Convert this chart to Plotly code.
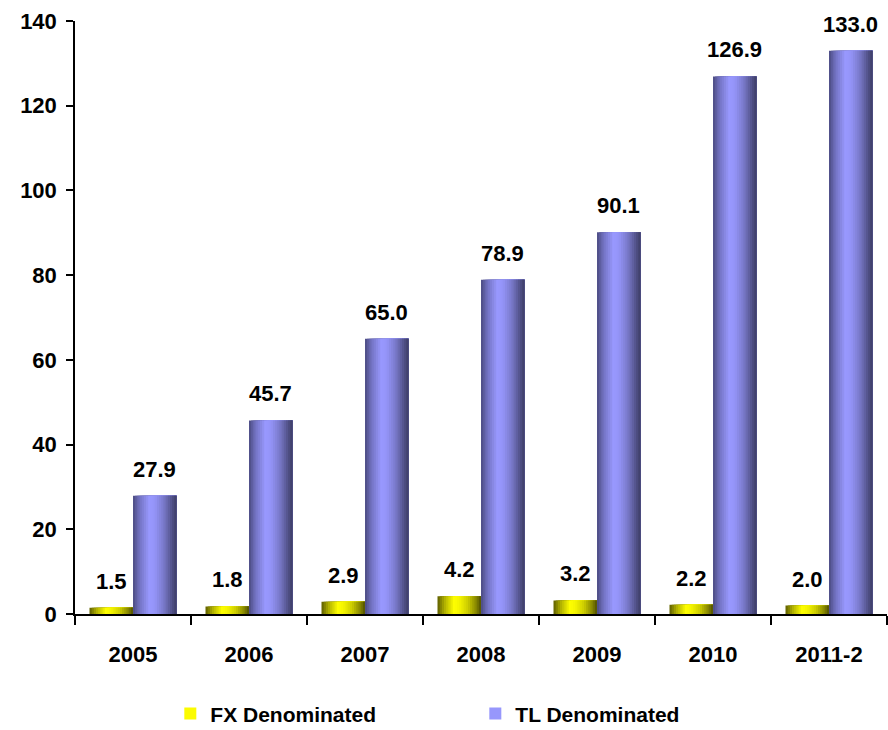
import plotly.graph_objects as go

# ---- data ----
categories = ["2005", "2006", "2007", "2008", "2009", "2010", "2011-2"]
fx_values = [1.5, 1.8, 2.9, 4.2, 3.2, 2.2, 2.0]
tl_values = [27.9, 45.7, 65.0, 78.9, 90.1, 126.9, 133.0]
y_tick_vals = [0, 20, 40, 60, 80, 100, 120, 140]
series_names = ["FX Denominated", "TL Denominated"]

# ---- style ----
FONT = "Liberation Sans Narrow, Arial Narrow, Liberation Sans, Arial, sans-serif"
FS = 22
BAR_W = 0.375
N_STRIPS = 20
fx_stops = [(0, "#5c5c00"), (0.15, "#aaaa00"), (0.38, "#ffff00"), (0.5, "#f5f500"),
            (0.7, "#cccc00"), (0.88, "#8a8a00"), (1, "#4f4f00")]
tl_stops = [(0, "#4a4a80"), (0.15, "#7373c2"), (0.38, "#9999ff"), (0.5, "#9494f7"),
            (0.7, "#7a7acc"), (0.88, "#55558e"), (1, "#3d3d66")]


def hex2rgb(h):
    h = h.lstrip("#")
    return tuple(int(h[i:i + 2], 16) for i in (0, 2, 4))


def grad(stops, t):
    for (t0, c0), (t1, c1) in zip(stops[:-1], stops[1:]):
        if t0 <= t <= t1:
            f = (t - t0) / (t1 - t0) if t1 > t0 else 0
            a, b = hex2rgb(c0), hex2rgb(c1)
            return "rgb(%d,%d,%d)" % tuple(round(a[k] + (b[k] - a[k]) * f) for k in range(3))
    return stops[-1][1]


def bold(size):
    return dict(family=FONT, size=size, color="black", weight="bold")


fig = go.Figure()

series = [
    (series_names[0], fx_values, fx_stops, -BAR_W),
    (series_names[1], tl_values, tl_stops, 0.0),
]

for name, vals, stops, base_off in series:
    legend_idx = int(N_STRIPS * 0.4)
    for i in range(N_STRIPS):
        t = (i + 0.5) / N_STRIPS
        off = base_off + i * BAR_W / N_STRIPS
        w = BAR_W - i * BAR_W / N_STRIPS
        fig.add_trace(go.Bar(
            x=categories, y=vals, name=name, legendgroup=name,
            showlegend=(i == legend_idx),
            offset=off, width=w,
            marker=dict(color=grad(stops, t), line=dict(width=0)),
            hoverinfo="skip",
        ))

# value labels
annotations = []
for name, vals, stops, base_off in series:
    for idx, v in enumerate(vals):
        annotations.append(dict(
            x=idx + base_off + BAR_W / 2, y=v, xref="x", yref="y",
            text=f"{v:.1f}", showarrow=False, yanchor="bottom", yshift=12,
            font=bold(FS),
        ))

fig.update_layout(
    width=888, height=730,
    barmode="overlay",
    paper_bgcolor="white", plot_bgcolor="white",
    margin=dict(l=75, r=1, t=21, b=116, autoexpand=False),
    font=bold(FS),
    annotations=annotations,
    showlegend=True,
    legend=dict(orientation="h", x=0.493, xanchor="center",
                yref="container", y=0.022, yanchor="middle",
                font=bold(21), entrywidth=260, itemwidth=30, traceorder="normal"),
)
fig.update_xaxes(
    type="category", categoryorder="array", categoryarray=categories,
    tickson="boundaries", ticks="outside", ticklen=9, tickwidth=1.5, tickcolor="black",
    showline=True, linecolor="black", linewidth=1.5, showgrid=False,
    ticklabelstandoff=20, tickfont=bold(FS), automargin=False,
    range=[-0.5, 6.5],
)
fig.update_yaxes(
    range=[0, 140], tickvals=y_tick_vals, ticks="outside", ticklen=7, tickwidth=1.5,
    tickcolor="black", showline=True, linecolor="black", linewidth=1.5,
    showgrid=False, zeroline=False, ticklabelstandoff=5, automargin=False,
    tickfont=bold(FS),
)

fig.write_html("out.html", config={"displayModeBar": False},
               post_script="document.body.style.margin='0';")
